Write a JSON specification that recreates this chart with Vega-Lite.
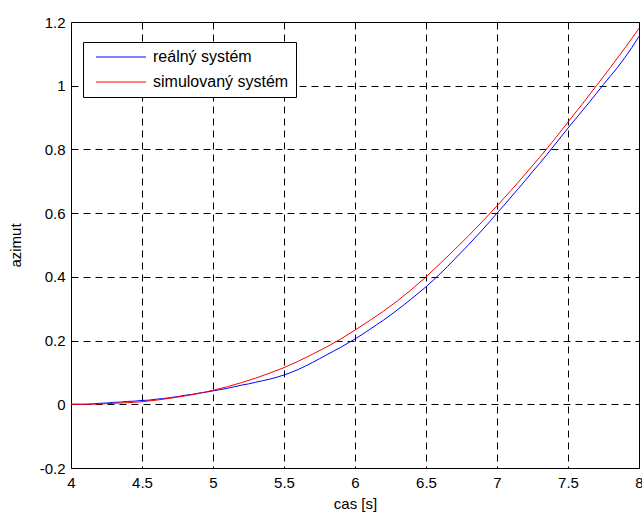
{
  "$schema": "https://vega.github.io/schema/vega-lite/v6.json",
  "width": 568,
  "height": 446,
  "autosize": {"type": "none"},
  "padding": {"left": 71, "top": 22, "right": 3, "bottom": 45},
  "background": "white",
  "config": {
    "font": "Liberation Sans",
    "view": {"stroke": "black", "strokeWidth": 1},
    "axis": {
      "domain": false,
      "ticks": false,
      "grid": true,
      "gridColor": "black",
      "gridDash": [7, 5],
      "gridWidth": 1,
      "gridOpacity": 1,
      "labelFont": "Liberation Sans",
      "labelFontSize": 15,
      "labelColor": "black",
      "labelExpr": "datum.value + ''",
      "titleFont": "Liberation Sans",
      "titleFontSize": 15,
      "titleFontWeight": "normal",
      "titleColor": "black"
    },
    "legend": {
      "labelFont": "Liberation Sans",
      "labelFontSize": 16,
      "labelColor": "black"
    }
  },
  "data": {
    "values": [
      {"series": "reálný systém", "t": 4.00, "v": 0.000}, {"series": "reálný systém", "t": 4.05, "v": 0.000},
      {"series": "reálný systém", "t": 4.10, "v": 0.000}, {"series": "reálný systém", "t": 4.15, "v": 0.001},
      {"series": "reálný systém", "t": 4.20, "v": 0.003}, {"series": "reálný systém", "t": 4.25, "v": 0.004},
      {"series": "reálný systém", "t": 4.30, "v": 0.006}, {"series": "reálný systém", "t": 4.35, "v": 0.007},
      {"series": "reálný systém", "t": 4.40, "v": 0.009}, {"series": "reálný systém", "t": 4.45, "v": 0.010},
      {"series": "reálný systém", "t": 4.50, "v": 0.012}, {"series": "reálný systém", "t": 4.55, "v": 0.013},
      {"series": "reálný systém", "t": 4.60, "v": 0.016}, {"series": "reálný systém", "t": 4.65, "v": 0.018},
      {"series": "reálný systém", "t": 4.70, "v": 0.021}, {"series": "reálný systém", "t": 4.75, "v": 0.024},
      {"series": "reálný systém", "t": 4.80, "v": 0.028}, {"series": "reálný systém", "t": 4.85, "v": 0.031},
      {"series": "reálný systém", "t": 4.90, "v": 0.035}, {"series": "reálný systém", "t": 4.95, "v": 0.038},
      {"series": "reálný systém", "t": 5.00, "v": 0.042}, {"series": "reálný systém", "t": 5.05, "v": 0.046},
      {"series": "reálný systém", "t": 5.10, "v": 0.050}, {"series": "reálný systém", "t": 5.15, "v": 0.055},
      {"series": "reálný systém", "t": 5.20, "v": 0.060}, {"series": "reálný systém", "t": 5.25, "v": 0.064},
      {"series": "reálný systém", "t": 5.30, "v": 0.069}, {"series": "reálný systém", "t": 5.35, "v": 0.074},
      {"series": "reálný systém", "t": 5.40, "v": 0.079}, {"series": "reálný systém", "t": 5.45, "v": 0.085},
      {"series": "reálný systém", "t": 5.50, "v": 0.092}, {"series": "reálný systém", "t": 5.55, "v": 0.100},
      {"series": "reálný systém", "t": 5.60, "v": 0.109}, {"series": "reálný systém", "t": 5.65, "v": 0.120},
      {"series": "reálný systém", "t": 5.70, "v": 0.131}, {"series": "reálný systém", "t": 5.75, "v": 0.143},
      {"series": "reálný systém", "t": 5.80, "v": 0.155}, {"series": "reálný systém", "t": 5.85, "v": 0.167},
      {"series": "reálný systém", "t": 5.90, "v": 0.179}, {"series": "reálný systém", "t": 5.95, "v": 0.192},
      {"series": "reálný systém", "t": 6.00, "v": 0.205}, {"series": "reálný systém", "t": 6.05, "v": 0.219},
      {"series": "reálný systém", "t": 6.10, "v": 0.234}, {"series": "reálný systém", "t": 6.15, "v": 0.249},
      {"series": "reálný systém", "t": 6.20, "v": 0.264}, {"series": "reálný systém", "t": 6.25, "v": 0.280},
      {"series": "reálný systém", "t": 6.30, "v": 0.297}, {"series": "reálný systém", "t": 6.35, "v": 0.314},
      {"series": "reálný systém", "t": 6.40, "v": 0.332}, {"series": "reálný systém", "t": 6.45, "v": 0.350},
      {"series": "reálný systém", "t": 6.50, "v": 0.369}, {"series": "reálný systém", "t": 6.55, "v": 0.389},
      {"series": "reálný systém", "t": 6.60, "v": 0.410}, {"series": "reálný systém", "t": 6.65, "v": 0.432},
      {"series": "reálný systém", "t": 6.70, "v": 0.455}, {"series": "reálný systém", "t": 6.75, "v": 0.478},
      {"series": "reálný systém", "t": 6.80, "v": 0.501}, {"series": "reálný systém", "t": 6.85, "v": 0.525},
      {"series": "reálný systém", "t": 6.90, "v": 0.549}, {"series": "reálný systém", "t": 6.95, "v": 0.574},
      {"series": "reálný systém", "t": 7.00, "v": 0.600}, {"series": "reálný systém", "t": 7.05, "v": 0.625},
      {"series": "reálný systém", "t": 7.10, "v": 0.651}, {"series": "reálný systém", "t": 7.15, "v": 0.677},
      {"series": "reálný systém", "t": 7.20, "v": 0.703}, {"series": "reálný systém", "t": 7.25, "v": 0.730},
      {"series": "reálný systém", "t": 7.30, "v": 0.756}, {"series": "reálný systém", "t": 7.35, "v": 0.783},
      {"series": "reálný systém", "t": 7.40, "v": 0.811}, {"series": "reálný systém", "t": 7.45, "v": 0.839},
      {"series": "reálný systém", "t": 7.50, "v": 0.867}, {"series": "reálný systém", "t": 7.55, "v": 0.894},
      {"series": "reálný systém", "t": 7.60, "v": 0.921}, {"series": "reálný systém", "t": 7.65, "v": 0.948},
      {"series": "reálný systém", "t": 7.70, "v": 0.976}, {"series": "reálný systém", "t": 7.75, "v": 1.004},
      {"series": "reálný systém", "t": 7.80, "v": 1.031}, {"series": "reálný systém", "t": 7.85, "v": 1.058},
      {"series": "reálný systém", "t": 7.90, "v": 1.088}, {"series": "reálný systém", "t": 7.95, "v": 1.120},
      {"series": "reálný systém", "t": 8.00, "v": 1.155},
      {"series": "simulovaný systém", "t": 4.0, "v": 0.000}, {"series": "simulovaný systém", "t": 4.1, "v": 0.000},
      {"series": "simulovaný systém", "t": 4.2, "v": 0.001}, {"series": "simulovaný systém", "t": 4.3, "v": 0.003},
      {"series": "simulovaný systém", "t": 4.4, "v": 0.005}, {"series": "simulovaný systém", "t": 4.5, "v": 0.008},
      {"series": "simulovaný systém", "t": 4.6, "v": 0.013}, {"series": "simulovaný systém", "t": 4.7, "v": 0.019},
      {"series": "simulovaný systém", "t": 4.8, "v": 0.026}, {"series": "simulovaný systém", "t": 4.9, "v": 0.034},
      {"series": "simulovaný systém", "t": 5.0, "v": 0.044}, {"series": "simulovaný systém", "t": 5.1, "v": 0.055},
      {"series": "simulovaný systém", "t": 5.2, "v": 0.068}, {"series": "simulovaný systém", "t": 5.3, "v": 0.082},
      {"series": "simulovaný systém", "t": 5.4, "v": 0.098}, {"series": "simulovaný systém", "t": 5.5, "v": 0.115},
      {"series": "simulovaný systém", "t": 5.6, "v": 0.135}, {"series": "simulovaný systém", "t": 5.7, "v": 0.157},
      {"series": "simulovaný systém", "t": 5.8, "v": 0.180}, {"series": "simulovaný systém", "t": 5.9, "v": 0.205},
      {"series": "simulovaný systém", "t": 6.0, "v": 0.233}, {"series": "simulovaný systém", "t": 6.1, "v": 0.262},
      {"series": "simulovaný systém", "t": 6.2, "v": 0.292}, {"series": "simulovaný systém", "t": 6.3, "v": 0.325},
      {"series": "simulovaný systém", "t": 6.4, "v": 0.361}, {"series": "simulovaný systém", "t": 6.5, "v": 0.400},
      {"series": "simulovaný systém", "t": 6.6, "v": 0.442}, {"series": "simulovaný systém", "t": 6.7, "v": 0.485},
      {"series": "simulovaný systém", "t": 6.8, "v": 0.529}, {"series": "simulovaný systém", "t": 6.9, "v": 0.575},
      {"series": "simulovaný systém", "t": 7.0, "v": 0.623}, {"series": "simulovaný systém", "t": 7.1, "v": 0.672},
      {"series": "simulovaný systém", "t": 7.2, "v": 0.723}, {"series": "simulovaný systém", "t": 7.3, "v": 0.775},
      {"series": "simulovaný systém", "t": 7.4, "v": 0.829}, {"series": "simulovaný systém", "t": 7.5, "v": 0.886},
      {"series": "simulovaný systém", "t": 7.6, "v": 0.942}, {"series": "simulovaný systém", "t": 7.7, "v": 1.000},
      {"series": "simulovaný systém", "t": 7.8, "v": 1.058}, {"series": "simulovaný systém", "t": 7.9, "v": 1.118},
      {"series": "simulovaný systém", "t": 8.0, "v": 1.180}
    ]
  },
  "mark": {"type": "line", "strokeWidth": 1, "clip": true},
  "encoding": {
    "x": {
      "field": "t",
      "type": "quantitative",
      "title": "cas [s]",
      "scale": {"domain": [4, 8], "nice": false, "zero": false},
      "axis": {"values": [4, 4.5, 5, 5.5, 6, 6.5, 7, 7.5, 8], "labelPadding": 7, "labelFlush": false, "titlePadding": 6}
    },
    "y": {
      "field": "v",
      "type": "quantitative",
      "title": "azimut",
      "scale": {"domain": [-0.2, 1.2], "nice": false, "zero": false},
      "axis": {"values": [-0.2, 0, 0.2, 0.4, 0.6, 0.8, 1, 1.2], "labelPadding": 6, "labelFlush": false, "titlePadding": 16}
    },
    "color": {
      "field": "series",
      "type": "nominal",
      "scale": {"domain": ["reálný systém", "simulovaný systém"], "range": ["#0000ff", "#ff0000"]},
      "legend": {
        "title": null,
        "orient": "none",
        "legendX": 12,
        "legendY": 20,
        "symbolType": "M-0.4,0H9.6",
        "symbolSize": 100,
        "symbolStrokeWidth": 1,
        "strokeColor": "black",
        "fillColor": "white",
        "padding": 7,
        "labelOffset": 47,
        "rowPadding": 9,
        "encode": {
          "symbols": {
            "update": {
              "stroke": {"signal": "datum.value === 'reálný systém' ? '#0000ff' : '#ff0000'"},
              "fill": {"value": "transparent"},
              "opacity": {"value": 1}
            }
          }
        }
      }
    }
  }
}
